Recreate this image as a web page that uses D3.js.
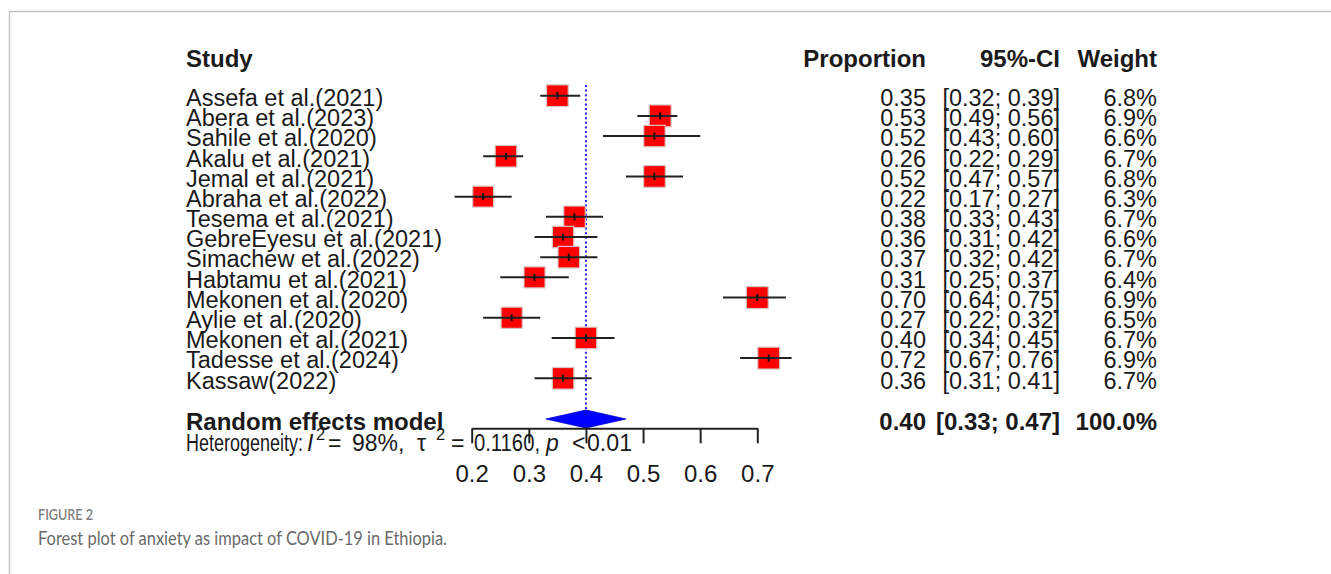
<!DOCTYPE html>
<html>
<head>
<meta charset="utf-8">
<script src="https://cdn.jsdelivr.net/npm/d3@7/dist/d3.min.js"></script>
<style>
  html, body { margin: 0; padding: 0; background: #ffffff; }
  svg { display: block; }
</style>
</head>
<body>
<svg id="chart" width="1331" height="574"></svg>
<script>
// ---------------- data ----------------
const studies = [
  "Assefa et al.(2021)", "Abera et al.(2023)", "Sahile et al.(2020)", "Akalu et al.(2021)",
  "Jemal et al.(2021)", "Abraha et al.(2022)", "Tesema et al.(2021)", "GebreEyesu et al.(2021)",
  "Simachew et al.(2022)", "Habtamu et al.(2021)", "Mekonen et al.(2020)", "Aylie et al.(2020)",
  "Mekonen et al.(2021)", "Tadesse et al.(2024)", "Kassaw(2022)"
];
const proportions = [0.35, 0.53, 0.52, 0.26, 0.52, 0.22, 0.38, 0.36, 0.37, 0.31, 0.70, 0.27, 0.40, 0.72, 0.36];
const ciLower     = [0.32, 0.49, 0.43, 0.22, 0.47, 0.17, 0.33, 0.31, 0.32, 0.25, 0.64, 0.22, 0.34, 0.67, 0.31];
const ciUpper     = [0.39, 0.56, 0.60, 0.29, 0.57, 0.27, 0.43, 0.42, 0.42, 0.37, 0.75, 0.32, 0.45, 0.76, 0.41];
const weights     = [6.8, 6.9, 6.6, 6.7, 6.8, 6.3, 6.7, 6.6, 6.7, 6.4, 6.9, 6.5, 6.7, 6.9, 6.7];

const pooledLabel = "Random effects model";
const pooledEstimate = [0.40];
const pooledLower = [0.33];
const pooledUpper = [0.47];
const pooledWeight = [100.0];

const xTicks = [0.2, 0.3, 0.4, 0.5, 0.6, 0.7];
const hetI2 = "98%";
const hetTau2 = "0.1160";
const hetP = "0.01";

const headers = ["Study", "Proportion", "95%-CI", "Weight"];
const captionTitle = "FIGURE 2";
const captionText = "Forest plot of anxiety as impact of COVID-19 in Ethiopia.";

// ---------------- layout ----------------
const svg = d3.select("#chart");
const FONT = "'Liberation Sans', Arimo, Arial, sans-serif";
const INK = "#1a1a1a";
const FS = 23.5;

// frame of the figure panel
svg.append("path")
  .attr("d", "M9.5,574 V11.5 H1331")
  .attr("fill", "none").attr("stroke", "#c4c4c4").attr("stroke-width", 1.5);

const x = d3.scaleLinear().domain([0.2, 0.7]).range([471.7, 757.3]);
const y = d3.scalePoint().domain(studies).range([95.7, 378.3]);
const side = d3.scaleSqrt().domain([0, 6.8]).range([0, 21.7]);
const yPooled = 419;
const yAxis = 428.3;
const f2 = d3.format(".2f");
const f1 = d3.format(".1f");

const colProp = 926, colCI = 1060, colW = 1157, colStudy = 186;

// headers
const hdr = svg.append("g").attr("font-family", FONT).attr("font-weight", "bold")
  .attr("font-size", 24).attr("fill", INK);
hdr.append("text").attr("x", colStudy).attr("y", 66.5).text(headers[0]);
hdr.append("text").attr("x", colProp).attr("y", 66.5).attr("text-anchor", "end").text(headers[1]);
hdr.append("text").attr("x", colCI).attr("y", 66.5).attr("text-anchor", "end").text(headers[2]);
hdr.append("text").attr("x", colW).attr("y", 66.5).attr("text-anchor", "end").text(headers[3]);

// reference (pooled) dotted line
svg.append("line")
  .attr("x1", x(pooledEstimate[0])).attr("x2", x(pooledEstimate[0]))
  .attr("y1", 85).attr("y2", 409)
  .attr("stroke", "#1f1fff").attr("stroke-width", 2).attr("stroke-dasharray", "2,2.6");

const rows = studies.map((s, i) => ({
  study: s, p: proportions[i], lo: ciLower[i], hi: ciUpper[i], w: weights[i]
}));

// study squares
const marks = svg.append("g");
marks.selectAll("rect").data(rows).join("rect")
  .attr("x", d => x(d.p) - side(d.w) / 2)
  .attr("y", d => y(d.study) - side(d.w) / 2)
  .attr("width", d => side(d.w)).attr("height", d => side(d.w))
  .attr("fill", "#ff0000").attr("stroke", "#d8c4c4").attr("stroke-width", 1.2);

// CI lines
marks.selectAll("line.ci").data(rows).join("line").attr("class", "ci")
  .attr("x1", d => x(d.lo)).attr("x2", d => x(d.hi))
  .attr("y1", d => y(d.study)).attr("y2", d => y(d.study))
  .attr("stroke", "#222").attr("stroke-width", 2);

// point-estimate tick
marks.selectAll("line.pt").data(rows).join("line").attr("class", "pt")
  .attr("x1", d => x(d.p)).attr("x2", d => x(d.p))
  .attr("y1", d => y(d.study) - 3.5).attr("y2", d => y(d.study) + 3.5)
  .attr("stroke", "#111").attr("stroke-width", 2);

// row texts
const txt = svg.append("g").attr("font-family", FONT).attr("font-size", FS).attr("fill", INK);
const base = d => y(d.study) + 10.3;
txt.selectAll("text.study").data(rows).join("text").attr("class", "study")
  .attr("x", colStudy).attr("y", base).text(d => d.study);
txt.selectAll("text.prop").data(rows).join("text").attr("class", "prop")
  .attr("x", colProp).attr("y", base).attr("text-anchor", "end").text(d => f2(d.p));
txt.selectAll("text.ci").data(rows).join("text").attr("class", "ci")
  .attr("x", colCI).attr("y", base).attr("text-anchor", "end")
  .text(d => "[" + f2(d.lo) + "; " + f2(d.hi) + "]");
txt.selectAll("text.w").data(rows).join("text").attr("class", "w")
  .attr("x", colW).attr("y", base).attr("text-anchor", "end").text(d => f1(d.w) + "%");

// pooled diamond
svg.append("path")
  .attr("d", `M${x(pooledLower[0])},${yPooled} L${x(pooledEstimate[0])},${yPooled - 9} L${x(pooledUpper[0])},${yPooled} L${x(pooledEstimate[0])},${yPooled + 9} Z`)
  .attr("fill", "#0000ff").attr("stroke", "#0000cc").attr("stroke-width", 0.8);

const pb = svg.append("g").attr("font-family", FONT).attr("font-weight", "bold")
  .attr("font-size", 24).attr("fill", INK);
const yPB = yPooled + 10.5;
pb.append("text").attr("x", colStudy).attr("y", yPB).text(pooledLabel);
pb.append("text").attr("x", colProp).attr("y", yPB).attr("text-anchor", "end").text(f2(pooledEstimate[0]));
pb.append("text").attr("x", colCI).attr("y", yPB).attr("text-anchor", "end")
  .text("[" + f2(pooledLower[0]) + "; " + f2(pooledUpper[0]) + "]");
pb.append("text").attr("x", colW).attr("y", yPB).attr("text-anchor", "end").text(f1(pooledWeight[0]) + "%");

// axis
const axis = d3.axisBottom(x).tickValues(xTicks).tickSize(15).tickSizeOuter(0).tickPadding(22)
  .tickFormat(d3.format(".1f"));
const ax = svg.append("g").attr("transform", `translate(0,${yAxis})`).call(axis);
ax.select(".domain").attr("stroke", "#222").attr("stroke-width", 2);
ax.selectAll(".tick line").attr("stroke", "#222").attr("stroke-width", 2);
ax.selectAll(".tick text").attr("font-family", FONT).attr("font-size", 24).attr("fill", INK);

// heterogeneity line
const het = svg.append("g").attr("font-family", FONT).attr("font-size", 23).attr("fill", INK);
const hy = 451;
const piece = (xx, s, opts = {}) => {
  const t = het.append("text").attr("x", xx).attr("y", opts.sup ? hy - 11 : hy).text(s);
  if (opts.len) t.attr("textLength", opts.len).attr("lengthAdjust", "spacingAndGlyphs");
  if (opts.italic) t.attr("font-style", "italic");
  if (opts.sup) t.attr("font-size", 16.5);
  return t;
};
piece(186, "Heterogeneity:", { len: 117 });
piece(307, "I", { italic: true });
piece(316, "2", { sup: true });
piece(328, "=");
piece(352, hetI2 + ",");
piece(417, "τ");
piece(436, "2", { sup: true });
piece(451, "=");
piece(474, hetTau2 + ",", { len: 66 });
piece(546, "p", { italic: true });
piece(572, "<");
piece(587, hetP, { len: 45 });

// caption
svg.append("text").attr("x", 38).attr("y", 520)
  .attr("font-family", "Lato, 'Open Sans', sans-serif").attr("font-size", 15).attr("font-weight", 600)
  .attr("textLength", 55).attr("lengthAdjust", "spacingAndGlyphs")
  .attr("fill", "#808080").text(captionTitle);
svg.append("text").attr("x", 38).attr("y", 545)
  .attr("font-family", "Lato, 'Open Sans', sans-serif").attr("font-size", 18.5)
  .attr("textLength", 409).attr("lengthAdjust", "spacingAndGlyphs")
  .attr("fill", "#6a6a6a").text(captionText);
</script>
</body>
</html>
